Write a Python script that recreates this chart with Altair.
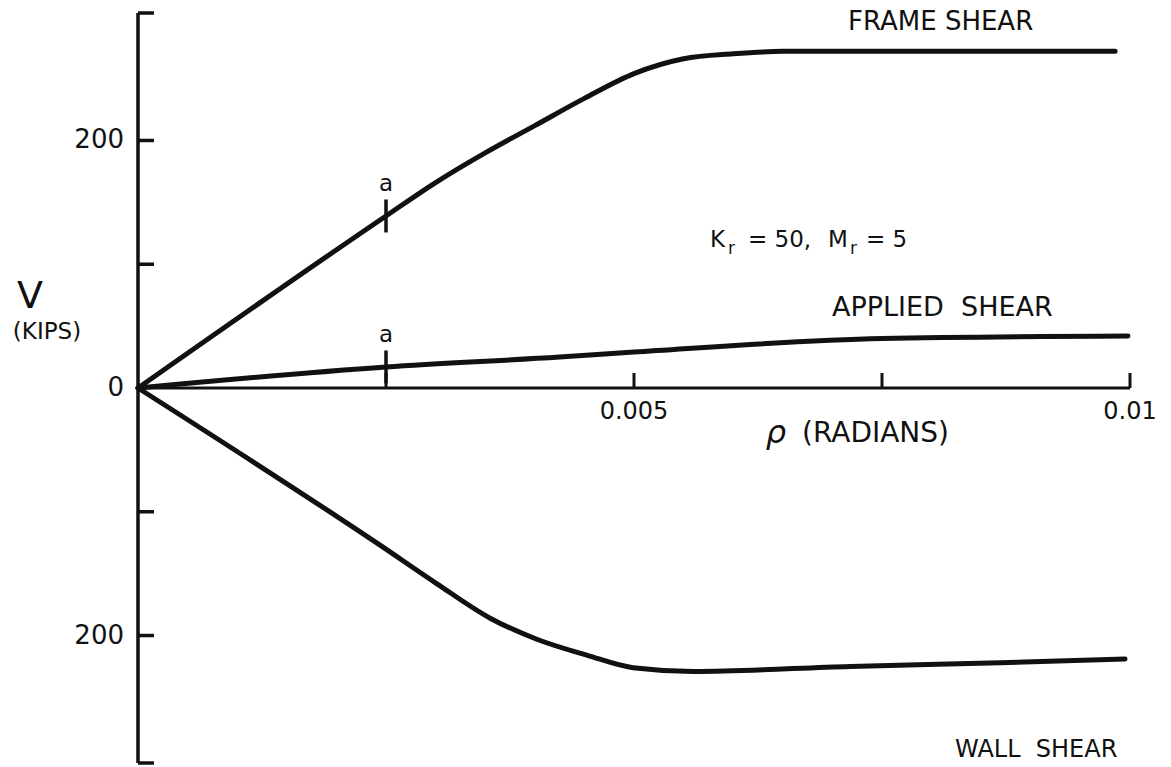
import altair as alt
import pandas as pd

# Shear V (kips) against rotation rho (radians) for each curve
frame_rho = [0, 0.0025, 0.003, 0.0035, 0.004, 0.0045, 0.005, 0.0055, 0.006,
             0.0065, 0.00985]
frame_v = [0, 139, 166, 190, 212, 234, 254, 266, 270, 272, 272]

applied_rho = [0, 0.0025, 0.00425, 0.005, 0.0075, 0.00998]
applied_v = [0, 17, 25, 29, 40, 42]

wall_rho = [0, 0.00244, 0.00301, 0.00355, 0.00402, 0.00453, 0.00499, 0.0056,
            0.00718, 0.00869, 0.00995]
wall_v = [0, -127, -158, -186, -203, -216, -226, -229, -225, -222, -219]

# Point "a" marked on the frame and applied-shear curves
a_rho = 0.0025
a_values = [139, 17]

# Axis ticks and labels
x_tick_values = [0.0025, 0.005, 0.0075, 0.01]
x_label_values = [0.005, 0.01]
x_label_text = ["0.005", "0.01"]
y_tick_values = [303, 200, 100, -100, -200, -303]
y_label_values = [200, 0, -200]
y_label_text = ["200", "0", "200"]

W, H = 992, 750
FONT = "DejaVu Sans"
INK = "#111111"
GAP = "\u00a0 "

x_scale = alt.Scale(domain=[0, 0.01], nice=False, zero=False)
y_scale = alt.Scale(domain=[-303, 303], nice=False, zero=False)


def xq(field):
    return alt.X(field, type="quantitative", scale=x_scale, axis=None)


def yq(field):
    return alt.Y(field, type="quantitative", scale=y_scale, axis=None)


curves = pd.concat([
    pd.DataFrame({"rho": frame_rho, "v": frame_v, "series": "frame"}),
    pd.DataFrame({"rho": applied_rho, "v": applied_v, "series": "applied"}),
    pd.DataFrame({"rho": wall_rho, "v": wall_v, "series": "wall"}),
])
one = pd.DataFrame({"k": [0]})

lines = alt.Chart(curves).mark_line(
    color=INK, strokeWidth=5, strokeCap="round", strokeJoin="round",
    interpolate="monotone"
).encode(x=xq("rho"), y=yq("v"), detail="series:N", order="rho:Q")

# Axes drawn by hand so the ticks point into the plot
y_axis = alt.Chart(one).mark_rule(color=INK, strokeWidth=3.5).encode(
    x=alt.value(0), y=alt.value(0), y2=alt.value(H))
x_axis = alt.Chart(one).mark_rule(color=INK, strokeWidth=3).encode(
    x=alt.value(0), x2=alt.value(W),
    y=alt.YDatum(0, type="quantitative", scale=y_scale, axis=None))

y_ticks = alt.Chart(pd.DataFrame({"v": y_tick_values})).mark_tick(
    orient="horizontal", size=16, thickness=3.5, xOffset=8, color=INK, opacity=1
).encode(x=alt.XDatum(0, type="quantitative", scale=x_scale, axis=None), y=yq("v"))

x_ticks = alt.Chart(pd.DataFrame({"rho": x_tick_values})).mark_tick(
    orient="vertical", size=15, thickness=3, yOffset=-7.5, color=INK, opacity=1
).encode(x=xq("rho"), y=alt.YDatum(0, type="quantitative", scale=y_scale, axis=None))

y_labels = alt.Chart(pd.DataFrame({"v": y_label_values, "t": y_label_text})).mark_text(
    font=FONT, fontSize=26, align="right", baseline="middle", color=INK
).encode(x=alt.value(-14), y=yq("v"), text="t:N")

x_labels = alt.Chart(pd.DataFrame({"rho": x_label_values, "t": x_label_text})).mark_text(
    font=FONT, fontSize=24, align="center", baseline="middle", dy=24, color=INK
).encode(x=xq("rho"), y=alt.YDatum(0, type="quantitative", scale=y_scale, axis=None),
         text="t:N")

# Point "a" markers
a_df = pd.DataFrame({"rho": [a_rho] * len(a_values), "v": a_values})
a_ticks = alt.Chart(a_df).mark_tick(
    orient="vertical", size=33, thickness=3.5, color=INK, opacity=1
).encode(x=xq("rho"), y=yq("v"))
a_text = alt.Chart(a_df).mark_text(
    text="a", font=FONT, fontSize=23, dy=-32, baseline="middle", color=INK
).encode(x=xq("rho"), y=yq("v"))


def label(text, x, y, size=26, align="left", style="normal", baseline="middle"):
    return alt.Chart(one).mark_text(
        text=text, font=FONT, fontSize=size, align=align, baseline=baseline,
        fontStyle=style, color=INK
    ).encode(x=alt.value(x), y=alt.value(y))


notes = [
    label("FRAME SHEAR", 710, 9),
    label("APPLIED" + GAP + "SHEAR", 694, 295, size=27),
    label("WALL" + GAP + "SHEAR", 817, 737, size=24),
    label("K", 572, 227, size=23),
    label("r", 590, 236, size=17),
    label("= 50,", 610, 227, size=23),
    label("M", 690, 227, size=23),
    label("r", 712, 236, size=17),
    label("= 5", 728, 227, size=23),
    label("V", -108, 284, size=38, align="center"),
    label("(KIPS)", -91, 308, size=23, align="center", baseline="top"),
    label("ρ", 638, 430, size=32, align="center", style="italic", baseline="alphabetic"),
    label("(RADIANS)", 664, 421, size=28),
]

chart = alt.layer(
    y_axis, x_axis, y_ticks, x_ticks, y_labels, x_labels,
    lines, a_ticks, a_text, *notes
).properties(
    width=W, height=H,
    autosize=alt.AutoSizeParams(type="none"),
    padding={"left": 138, "top": 13, "right": 41, "bottom": 4},
    background="white",
).configure_view(stroke=None)

chart.save("out.html", embed_options={"renderer": "svg", "actions": False})
